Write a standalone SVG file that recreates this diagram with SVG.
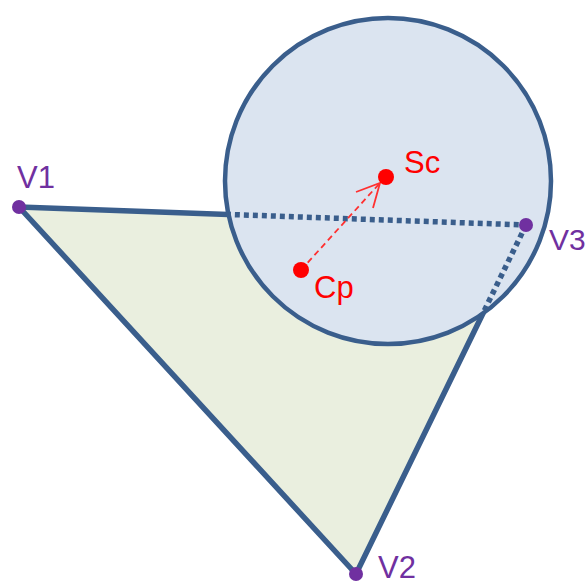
<svg xmlns="http://www.w3.org/2000/svg" width="588" height="585" viewBox="0 0 588 585">
<style>
.edge{fill:#EAEFDF;stroke:#3A5E8C;stroke-width:5.5;stroke-linejoin:round}
.dot{fill:none;stroke:#3A5E8C;stroke-width:5.5;stroke-dasharray:5 4}
.vlabel{font-family:"Liberation Sans",Arial,sans-serif;font-size:31px;fill:#7030A0}
.rlabel{font-family:"Liberation Sans",Arial,sans-serif;font-size:31px;fill:#FF0000}
.vpt{fill:#7030A0}
.rpt{fill:#FF0000}
</style>
<defs>
<clipPath id="inCircle"><circle cx="388" cy="181" r="163"/></clipPath>
</defs>
<g id="triangle">
<polygon points="19,207 526,225 356,574" class="edge"/>
</g>
<g id="sphere">
<circle cx="388" cy="181" r="163" fill="#DBE4F0" stroke="#3A5E8C" stroke-width="4.5"/>
</g>
<g id="connectors">
<g clip-path="url(#inCircle)">
<line x1="19" y1="207" x2="526" y2="225" class="dot"/>
<line x1="526" y1="225" x2="356" y2="574" class="dot"/>
</g>
<line x1="301" y1="270" x2="379" y2="184" stroke="#FF3030" stroke-width="1.8" stroke-dasharray="6 4" fill="none"/>
<polyline points="356,192 380,183 373,208" fill="none" stroke="#FF3030" stroke-width="1.8"/>
</g>
<g id="V1"><circle cx="19" cy="207" r="7" class="vpt"/><text x="17" y="188" class="vlabel">V1</text></g>
<g id="V2"><circle cx="356" cy="574" r="7" class="vpt"/><text x="378" y="578" class="vlabel">V2</text></g>
<g id="V3"><circle cx="526" cy="225" r="7" class="vpt"/><text x="549" y="250" class="vlabel" style="font-size:30px">V3</text></g>
<g id="Sc"><circle cx="386" cy="177" r="8" class="rpt"/><text x="404" y="173" class="rlabel">Sc</text></g>
<g id="Cp"><circle cx="301" cy="270" r="8" class="rpt"/><text x="314" y="298" class="rlabel">Cp</text></g>
</svg>
